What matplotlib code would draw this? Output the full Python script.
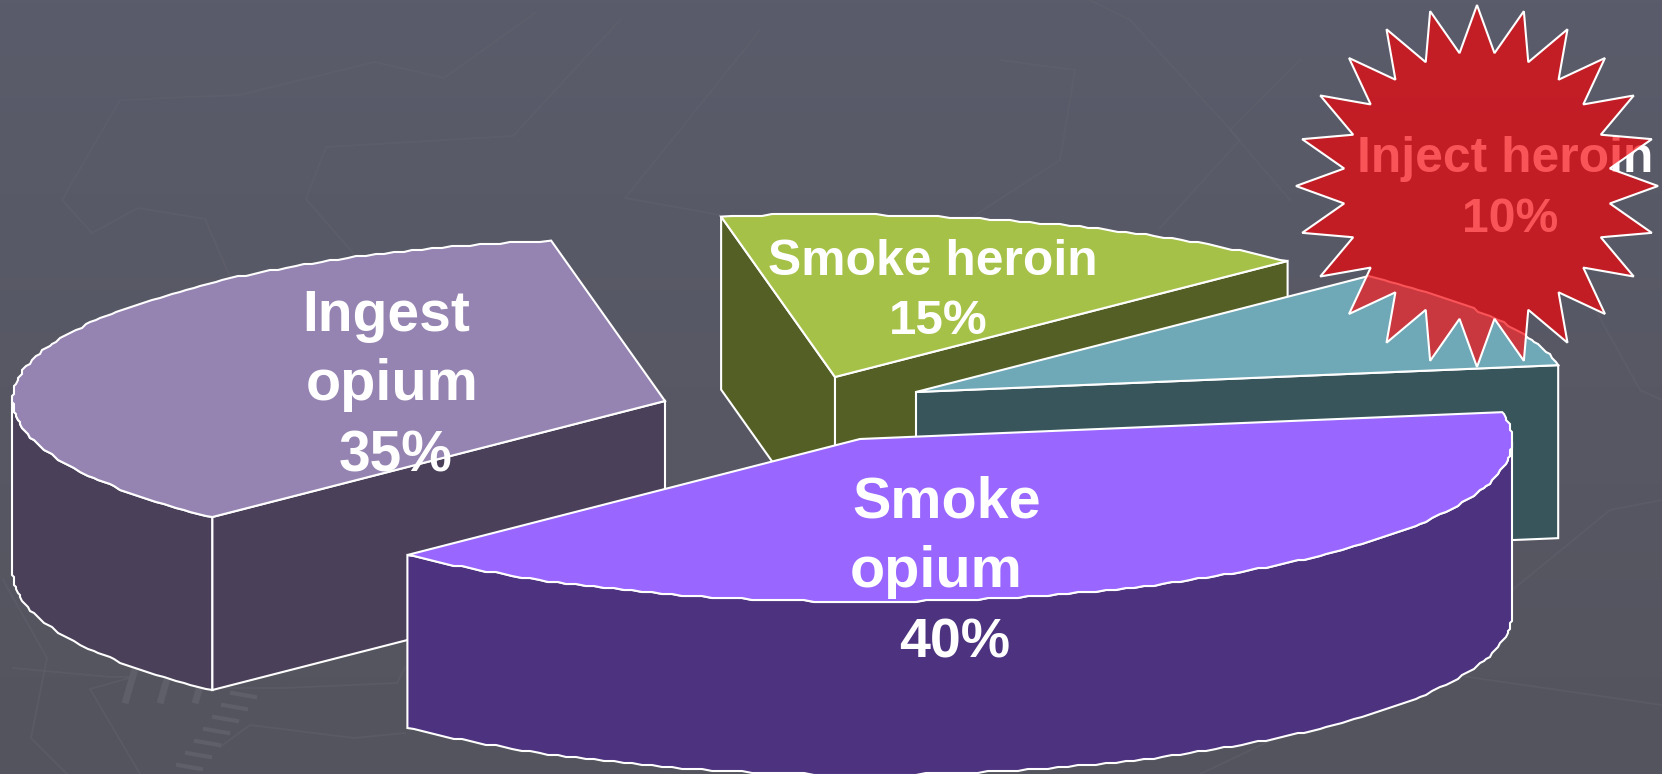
import numpy as np
import matplotlib
matplotlib.use("Agg")
import matplotlib.pyplot as plt
from matplotlib.patches import Polygon

# ---- data -------------------------------------------------------------
categories = ["Inject heroin", "Smoke opium", "Ingest opium", "Smoke heroin"]
shares = [10, 40, 35, 15]
top_colors = ["#6FA8B6", "#9966FF", "#9583B1", "#A6C148"]
wall_colors = ["#38555C", "#4D327F", "#4B4059", "#535F24"]
# wedge apex positions on the page (exploded pie), pixels
apex_x = [916, 860, 665, 835]
apex_y = [392, 439, 401, 377]
draw_order = [2, 3, 0, 1]
label_lines = [
    ("Ingest", 386, 316, 41), ("opium", 392, 385, 41.5), ("35%", 396, 457, 41),
    ("Smoke", 947, 502, 41.4), ("opium", 936, 572, 41.5), ("40%", 955, 644, 40),
    ("Smoke heroin", 933, 262, 35.8), ("15%", 938, 322, 35.5),
    ("Inject heroin", 1505, 159, 35.8), ("10%", 1510, 220, 34.6),
]
# faint background pattern
bg_lines = [
    [(535, 13), (444, 78), (375, 62), (239, 95), (120, 100), (62, 200), (92, 233), (138, 208), (205, 219), (230, 277)],
    [(620, 20), (513, 136), (326, 147), (306, 199), (353, 253)],
    [(760, 30), (680, 130), (625, 198), (720, 215)],
    [(1090, 0), (1130, 20), (1240, 140), (1160, 228)],
    [(1000, 60), (1075, 70), (1060, 160), (960, 225)],
    [(1300, 60), (1230, 130), (1290, 200)],
    [(1590, 300), (1640, 390), (1662, 400)],
    [(13, 668), (110, 677), (133, 677), (90, 689), (140, 774)],
    [(3, 580), (47, 658), (31, 738), (67, 774)],
    [(220, 688), (283, 688), (397, 683), (405, 667)],
    [(220, 747), (250, 725), (354, 738), (405, 733)],
    [(1200, 774), (1420, 670), (1662, 705)],
    [(1500, 600), (1610, 510), (1662, 500)],
]

W, H = 1662, 774
DEPTH = 173
U = np.array([452.6, -116.0])
V = np.array([469.6, 114.0])

fig = plt.figure(figsize=(W / 100, H / 100), dpi=100)
ax = fig.add_axes([0, 0, 1, 1])
ax.set_xlim(0, W)
ax.set_ylim(H, 0)
ax.axis("off")

# background gradient
grad = np.linspace(0, 1, 256)[:, None, None]
c0 = np.array([91, 92, 107]) / 255
c1 = np.array([83, 84, 93]) / 255
ax.imshow(c0 + (c1 - c0) * grad, extent=[0, W, H, 0], aspect="auto", zorder=0)
for ln in bg_lines:
    x, y = zip(*ln)
    ax.plot(x, y, color="#63646F", lw=1.3, alpha=0.4, zorder=1)
# pedestrian-crossing dashes of the pattern
for k in range(3):
    ax.plot([134 + k * 35, 126 + k * 35], [672, 700], color="#5E5F69", lw=5, zorder=1)
for k in range(8):
    ax.plot([232 - k * 9, 255 - k * 9], [693 + k * 12, 697 + k * 12], color="#5E5F69", lw=3, zorder=1)

STROKE = dict(edgecolor="white", linewidth=1.5, joinstyle="miter")


def ellipse_point(t):
    return np.outer(np.cos(t), U) + np.outer(np.sin(t), V)


def jag(pts):
    """The reference's arcs are fine stepped polylines."""
    return np.round(pts / 2) * 2


def wall(pts, color, z):
    shifted = pts[::-1] + [0, DEPTH]
    ax.add_patch(Polygon(np.vstack([pts, shifted]), closed=True, facecolor=color, zorder=z, **STROKE))


fracs = np.cumsum([0] + shares) / sum(shares) * 2 * np.pi
z = 3
for i in draw_order:
    t0, t1 = fracs[i], fracs[i + 1]
    apex = np.array([apex_x[i], apex_y[i]], float)
    t = np.linspace(t0, t1, max(int(np.degrees(t1 - t0) / 0.9), 3))
    arc = jag(ellipse_point(t) + apex)
    arc[0], arc[-1] = ellipse_point(t[[0]])[0] + apex, ellipse_point(t[[-1]])[0] + apex
    # outer wall: visible where the curve runs leftward on the page
    dxdt = -U[0] * np.sin(t) + V[0] * np.cos(t)
    vis = dxdt < 0
    if vis.any():
        wall(arc[vis], wall_colors[i], z)
    # flat cut faces
    if arc[0, 0] < apex[0]:
        wall(np.array([apex, arc[0]]), wall_colors[i], z)
    if apex[0] < arc[-1, 0]:
        wall(np.array([arc[-1], apex]), wall_colors[i], z)
    ax.add_patch(Polygon(np.vstack([apex, arc]), closed=True, facecolor=top_colors[i], zorder=z + 0.1, **STROKE))
    z += 1

for txt, x, y, size in label_lines:
    ax.text(x, y, txt, color="white", fontsize=size, fontweight="bold",
            family="Liberation Sans", ha="center", va="center", zorder=20)

# starburst over the last label (translucent)
n_star = 24
ang = np.arange(2 * n_star) * np.pi / n_star - np.pi / 2
rad = np.where(np.arange(2 * n_star) % 2 == 0, 181, 134)
star = np.column_stack([1477 + rad * np.cos(ang), 186 + rad * np.sin(ang)])
ax.add_patch(Polygon(star, closed=True, facecolor=(0.97, 0, 0.02, 0.67), edgecolor="white",
                     linewidth=1.5, zorder=30))

fig.savefig("out.png", dpi=100)
